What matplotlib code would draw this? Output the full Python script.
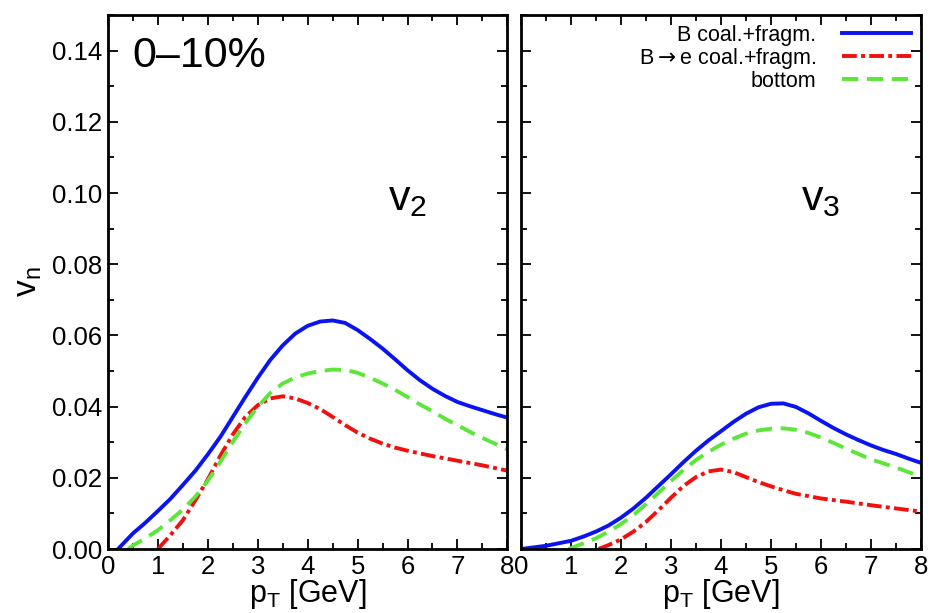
import numpy as np
import matplotlib.pyplot as plt
from matplotlib.ticker import MultipleLocator

plt.rcParams['font.family'] = ['Liberation Sans', 'DejaVu Sans']

# v2 panel (0-10%)
pt_v2_blue = [0.2, 0.5, 0.75, 1.0, 1.25, 1.5, 1.75, 2.0, 2.25, 2.5, 2.75, 3.0, 3.25, 3.5, 3.75, 4.0,
              4.25, 4.5, 4.75, 5.0, 5.25, 5.5, 5.75, 6.0, 6.25, 6.5, 6.75, 7.0, 7.25, 7.5, 7.75, 8.0]
v2_blue = [0.0, 0.0044, 0.0074, 0.0107, 0.0141, 0.018, 0.022, 0.0266, 0.0315, 0.0371, 0.0427, 0.0481,
           0.0531, 0.0572, 0.0605, 0.0627, 0.0639, 0.0642, 0.0635, 0.0615, 0.059, 0.0563, 0.0533, 0.0502,
           0.0474, 0.045, 0.043, 0.0413, 0.0401, 0.039, 0.0379, 0.0369]
pt_v2_green = [0.4, 0.5, 0.75, 1.0, 1.25, 1.5, 1.75, 2.0, 2.25, 2.5, 2.75, 3.0, 3.25, 3.5, 3.75, 4.0,
               4.25, 4.5, 4.75, 5.0, 5.25, 5.5, 5.75, 6.0, 6.25, 6.5, 6.75, 7.0, 7.25, 7.5, 7.75, 8.0]
v2_green = [0.0, 0.001, 0.003, 0.0053, 0.0081, 0.0111, 0.0147, 0.0192, 0.0245, 0.0301, 0.0353, 0.0400,
            0.0438, 0.0465, 0.0482, 0.0493, 0.0500, 0.0504, 0.0503, 0.0495, 0.0481, 0.0465, 0.0447, 0.0427,
            0.0406, 0.0387, 0.0366, 0.0348, 0.0329, 0.0312, 0.0296, 0.028]
pt_v2_red = [1.0, 1.25, 1.5, 1.75, 2.0, 2.25, 2.5, 2.75, 3.0, 3.25, 3.5, 3.75, 4.0, 4.25, 4.5, 4.75,
             5.0, 5.25, 5.5, 5.75, 6.0, 6.5, 7.0, 7.5, 8.0]
v2_red = [0.0, 0.0039, 0.0081, 0.0137, 0.0196, 0.0262, 0.0322, 0.0371, 0.0404, 0.0423, 0.0429, 0.0423,
          0.041, 0.0393, 0.0371, 0.0348, 0.0327, 0.031, 0.0296, 0.0285, 0.0276, 0.0261, 0.0248, 0.0235, 0.022]

# v3 panel
pt_v3_blue = [0.0, 0.5, 1.0, 1.25, 1.5, 1.75, 2.0, 2.25, 2.5, 2.75, 3.0, 3.25, 3.5, 3.75, 4.0,
              4.25, 4.5, 4.75, 5.0, 5.25, 5.5, 5.75, 6.0, 6.25, 6.5, 6.75, 7.0, 7.25, 7.5, 7.75, 8.0]
v3_blue = [0.0, 0.0009, 0.0023, 0.0035, 0.0049, 0.0066, 0.0088, 0.0114, 0.0144, 0.0177, 0.021, 0.0244,
           0.0276, 0.0305, 0.0331, 0.0357, 0.038, 0.0398, 0.0408, 0.0409, 0.0399, 0.0381, 0.036, 0.034,
           0.0322, 0.0306, 0.0291, 0.0278, 0.0267, 0.0254, 0.0242]
pt_v3_green = [0.95, 1.25, 1.5, 1.75, 2.0, 2.25, 2.5, 2.75, 3.0, 3.25, 3.5, 3.75, 4.0, 4.25, 4.5, 4.75,
               5.0, 5.25, 5.5, 5.75, 6.0, 6.25, 6.5, 6.75, 7.0, 7.5, 8.0]
v3_green = [0.0, 0.0016, 0.003, 0.0049, 0.007, 0.0095, 0.0126, 0.0158, 0.0191, 0.0222, 0.0250, 0.0273,
            0.0293, 0.0310, 0.0324, 0.0333, 0.0338, 0.0339, 0.0335, 0.0326, 0.0313, 0.0298, 0.0282, 0.0267,
            0.0252, 0.0229, 0.0203]
pt_v3_red = [1.55, 1.75, 2.0, 2.25, 2.5, 2.75, 3.0, 3.25, 3.5, 3.75, 4.0, 4.25, 4.5, 4.75, 5.0, 5.25,
             5.5, 6.0, 6.5, 7.0, 7.5, 8.0]
v3_red = [0.0, 0.0011, 0.0027, 0.0049, 0.0076, 0.0109, 0.0144, 0.0177, 0.0202, 0.0218, 0.0223, 0.0216,
          0.0202, 0.0188, 0.0176, 0.0165, 0.0155, 0.0142, 0.0133, 0.0123, 0.0114, 0.0105]

labels = ['B coal.+fragm.', r'B$\rightarrow$e coal.+fragm.', 'bottom']
blue = '#0a14f0'
red = '#f01010'
green = '#5ce63a'

fig = plt.figure(figsize=(9.33, 6.13), dpi=100)
ax1 = fig.add_axes([0.1158, 0.1044, 0.428, 0.8711])
ax2 = fig.add_axes([0.5584, 0.1044, 0.4287, 0.8711])

panels = [
    (ax1, pt_v2_blue, v2_blue, pt_v2_red, v2_red, pt_v2_green, v2_green),
    (ax2, pt_v3_blue, v3_blue, pt_v3_red, v3_red, pt_v3_green, v3_green),
]
for ax, xb, yb, xr, yr, xg, yg in panels:
    ax.plot(xb, yb, color=blue, lw=2.8, label=labels[0])
    ax.plot(xr, yr, color=red, lw=2.8, dashes=(3.8, 1.1, 1.0, 1.1), label=labels[1])
    ax.plot(xg, yg, color=green, lw=2.8, dashes=(4.2, 2.2), label=labels[2])
    ax.set_xlim(0, 8)
    ax.set_ylim(0, 0.15)
    ax.xaxis.set_major_locator(MultipleLocator(1))
    ax.xaxis.set_minor_locator(MultipleLocator(0.5))
    ax.yaxis.set_major_locator(MultipleLocator(0.02))
    ax.yaxis.set_minor_locator(MultipleLocator(0.01))
    ax.tick_params(which='both', direction='in', top=True, right=True, width=1.3)
    ax.tick_params(which='major', length=7, labelsize=18.5, pad=4)
    ax.tick_params(which='minor', length=4)
    for s in ax.spines.values():
        s.set_linewidth(2)
    ax.set_xlabel(r'p$_\mathregular{T}$ [GeV]', fontsize=22, labelpad=-1)

ax1.yaxis.set_major_formatter(plt.FormatStrFormatter('%.2f'))
ax1.set_ylabel(r'v$_\mathregular{n}$', fontsize=24, labelpad=6)
ax2.tick_params(labelleft=False)

ax1.text(0.06, 0.96, '0–10%', transform=ax1.transAxes, fontsize=31, va='top')
ax1.text(0.7, 0.635, r'v$_\mathregular{2}$', transform=ax1.transAxes, fontsize=31)
ax2.text(0.7, 0.635, r'v$_\mathregular{3}$', transform=ax2.transAxes, fontsize=31)

ax2.legend(loc='upper right', frameon=False, markerfirst=False, fontsize=15.5,
           handlelength=3.2, labelspacing=0.0, borderpad=0.35, borderaxespad=0.1,
           handletextpad=1.2)

fig.savefig('out.png', dpi=100)
